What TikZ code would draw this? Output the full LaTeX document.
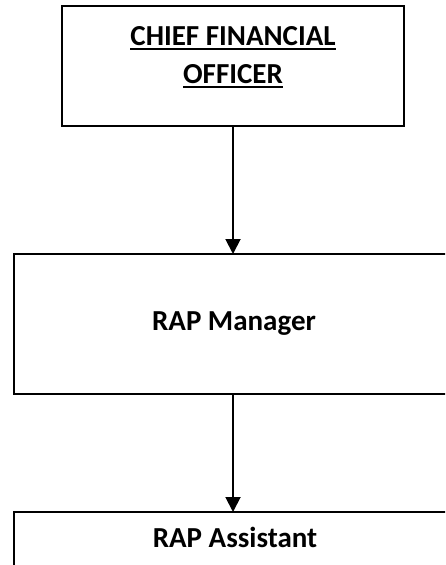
\documentclass[tikz,border=0pt]{standalone}
\usepackage{fontspec}
\setmainfont{Carlito}
\usetikzlibrary{arrows.meta}
\newcommand\myul[1]{\setbox0\hbox{#1}\rlap{\rule[-4.5pt]{\wd0}{2pt}}\box0}
\begin{document}
\begin{tikzpicture}[x=1pt,y=-1pt,
  box/.style={draw,line width=1.8pt,inner sep=0pt,outer sep=0pt,anchor=north west},
  lbl/.style={font=\fontsize{29}{38}\selectfont\bfseries,inner sep=0pt,anchor=base},
  conn/.style={line width=1.9pt,-{Triangle[length=15pt,width=15pt]}}]
\useasboundingbox (0,0) rectangle (445,565);
\clip (0,0) rectangle (445,565);
\fill[white] (0,0) rectangle (445,565);
\node[box,minimum width=342pt,minimum height=120pt] (cfo) at (62,6) {};
\node[box,minimum width=438pt,minimum height=140pt] (mgr) at (14,254) {};
\node[box,minimum width=438pt,minimum height=80pt] (asst) at (14,512) {};
\node[lbl] (cfo1) at (233,45.5) {\myul{CHIEF FINANCIAL}};
\node[lbl] (cfo2) at (233,83) {\myul{OFFICER}};
\node[lbl] (mgrt) at (234,330) {RAP Manager};
\node[lbl] (asstt) at (235,547) {RAP Assistant};
\draw[conn] (cfo.south) -- (mgr.north);
\draw[conn] (mgr.south) -- (asst.north);
\end{tikzpicture}
\end{document}
